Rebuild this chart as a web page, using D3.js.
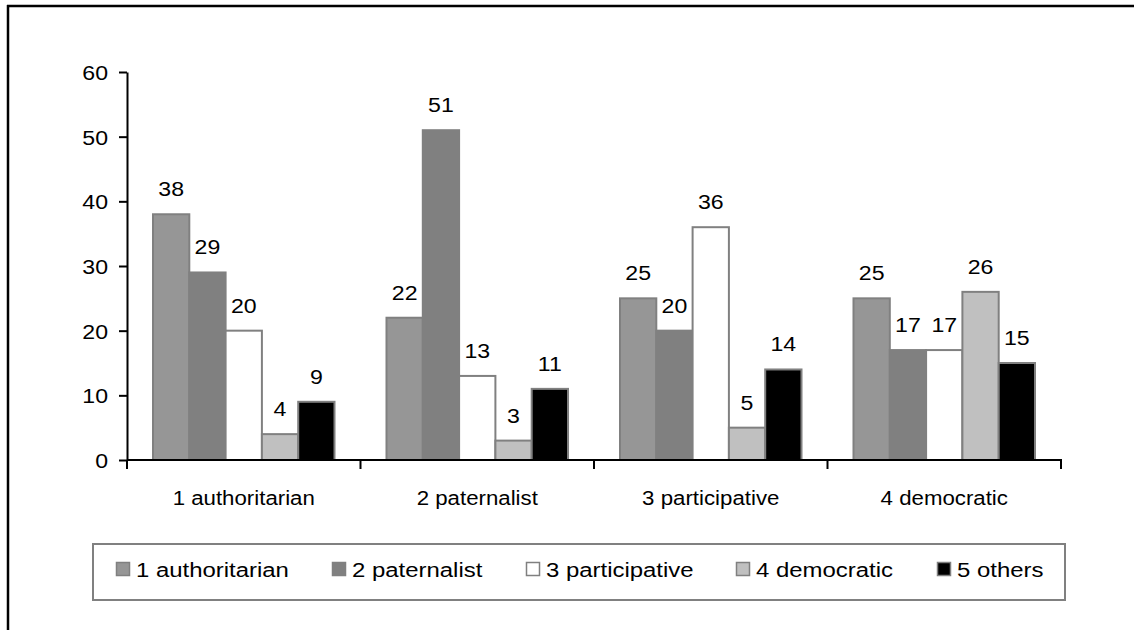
<!DOCTYPE html>
<html>
<head>
<meta charset="utf-8">
<script src="https://cdn.jsdelivr.net/npm/d3@7"></script>
<style>
  html, body { margin: 0; padding: 0; background: #fff; }
  svg { display: block; font-family: "Liberation Sans", Arial, sans-serif; }
</style>
</head>
<body>
<svg id="chart" width="1134" height="630"></svg>
<script>
const categories = ["1 authoritarian", "2 paternalist", "3 participative", "4 democratic"];
const seriesNames = ["1 authoritarian", "2 paternalist", "3 participative", "4 democratic", "5 others"];
const s1 = [38, 22, 25, 25];
const s2 = [29, 51, 20, 17];
const s3 = [20, 13, 36, 17];
const s4 = [4, 3, 5, 26];
const s5 = [9, 11, 14, 15];
const seriesValues = [s1, s2, s3, s4, s5];
const seriesColors = ["#969696", "#808080", "#ffffff", "#c0c0c0", "#000000"];
const yTicks = [0, 10, 20, 30, 40, 50, 60];

(function () {
const svg = d3.select("#chart");
const SX = 1.1;     // horizontal stretch of the text in the reference
const SXL = 1.14;

// outer frame (left + top edges visible)
svg.append("line").attr("x1", 8).attr("x2", 8).attr("y1", 5).attr("y2", 630)
  .attr("stroke", "#000").attr("stroke-width", 2.5);
svg.append("line").attr("x1", 7).attr("x2", 1134).attr("y1", 6).attr("y2", 6)
  .attr("stroke", "#000").attr("stroke-width", 2.5);

const pLeft = 127, pRight = 1061, pTop = 72, pBottom = 460;

const x0 = d3.scaleBand().domain(categories).range([pLeft, pRight]).padding(0);
const bw = x0.bandwidth();
const x1 = d3.scaleBand().domain(seriesNames).range([26, bw - 26]).padding(0);
const y = d3.scaleLinear().domain([0, 60]).range([pBottom, pTop]);

// bars
const rows = categories.map((c, i) => ({ cat: c, vals: seriesNames.map((s, j) => ({ s, j, v: seriesValues[j][i] })) }));
const g = svg.append("g");
const grp = g.selectAll("g.grp").data(rows).join("g").attr("class", "grp")
  .attr("transform", d => `translate(${x0(d.cat)},0)`);
grp.selectAll("rect").data(d => d.vals).join("rect")
  .attr("x", d => x1(d.s))
  .attr("y", d => y(d.v))
  .attr("width", x1.bandwidth())
  .attr("height", d => y(0) - y(d.v))
  .attr("fill", d => seriesColors[d.j])
  .attr("stroke", "#808080")
  .attr("stroke-width", 2);
grp.selectAll("text").data(d => d.vals).join("text")
  .attr("transform", d => `translate(${x1(d.s) + x1.bandwidth() / 2},${y(d.v) - 18}) scale(${SX},1)`)
  .attr("text-anchor", "middle")
  .attr("font-size", 21)
  .attr("fill", "#000")
  .text(d => d.v);

// y axis
const yAxis = d3.axisLeft(y).tickValues(yTicks).tickSize(8).tickPadding(11).tickSizeOuter(0);
const ya = svg.append("g").attr("transform", `translate(${pLeft},0)`).call(yAxis);
ya.select(".domain").attr("stroke", "#000").attr("stroke-width", 2);
ya.selectAll(".tick line").attr("stroke", "#000").attr("stroke-width", 2);
ya.selectAll(".tick text").attr("font-size", 21).attr("font-family", "Liberation Sans, Arial, sans-serif")
  .attr("fill", "#000").attr("dy", "0.36em")
  .attr("x", 0).attr("transform", `translate(-19,0) scale(${SX},1)`);

// x axis
const xa = svg.append("g").attr("transform", `translate(0,${pBottom})`);
xa.append("line").attr("x1", pLeft).attr("x2", pRight + 1).attr("y1", 0).attr("y2", 0)
  .attr("stroke", "#000").attr("stroke-width", 2);
const tickPos = categories.map(c => x0(c)).concat([pRight]);
xa.selectAll("line.tk").data(tickPos).join("line").attr("class", "tk")
  .attr("x1", d => d).attr("x2", d => d).attr("y1", 0).attr("y2", 9)
  .attr("stroke", "#000").attr("stroke-width", 2);
xa.selectAll("text").data(categories).join("text")
  .attr("transform", d => `translate(${x0(d) + bw / 2},45) scale(1.06,1)`)
  .attr("text-anchor", "middle")
  .attr("font-size", 21)
  .attr("fill", "#000")
  .text(d => d);

// legend
const lg = svg.append("g");
lg.append("rect").attr("x", 93).attr("y", 544).attr("width", 972).attr("height", 56)
  .attr("fill", "#fff").attr("stroke", "#808080").attr("stroke-width", 2);
const legX = [116, 332, 526, 736, 937];
const items = lg.selectAll("g.item").data(seriesNames).join("g").attr("class", "item")
  .attr("transform", (d, i) => `translate(${legX[i]},0)`);
items.append("rect").attr("x", 0.5).attr("y", 562.5).attr("width", 13).attr("height", 13)
  .attr("fill", (d, i) => seriesColors[i]).attr("stroke", "#808080").attr("stroke-width", 1.5);
items.append("text").attr("transform", `translate(20,577) scale(${SXL},1)`).attr("font-size", 21)
  .attr("fill", "#000").text(d => d);
})();
</script>
</body>
</html>
